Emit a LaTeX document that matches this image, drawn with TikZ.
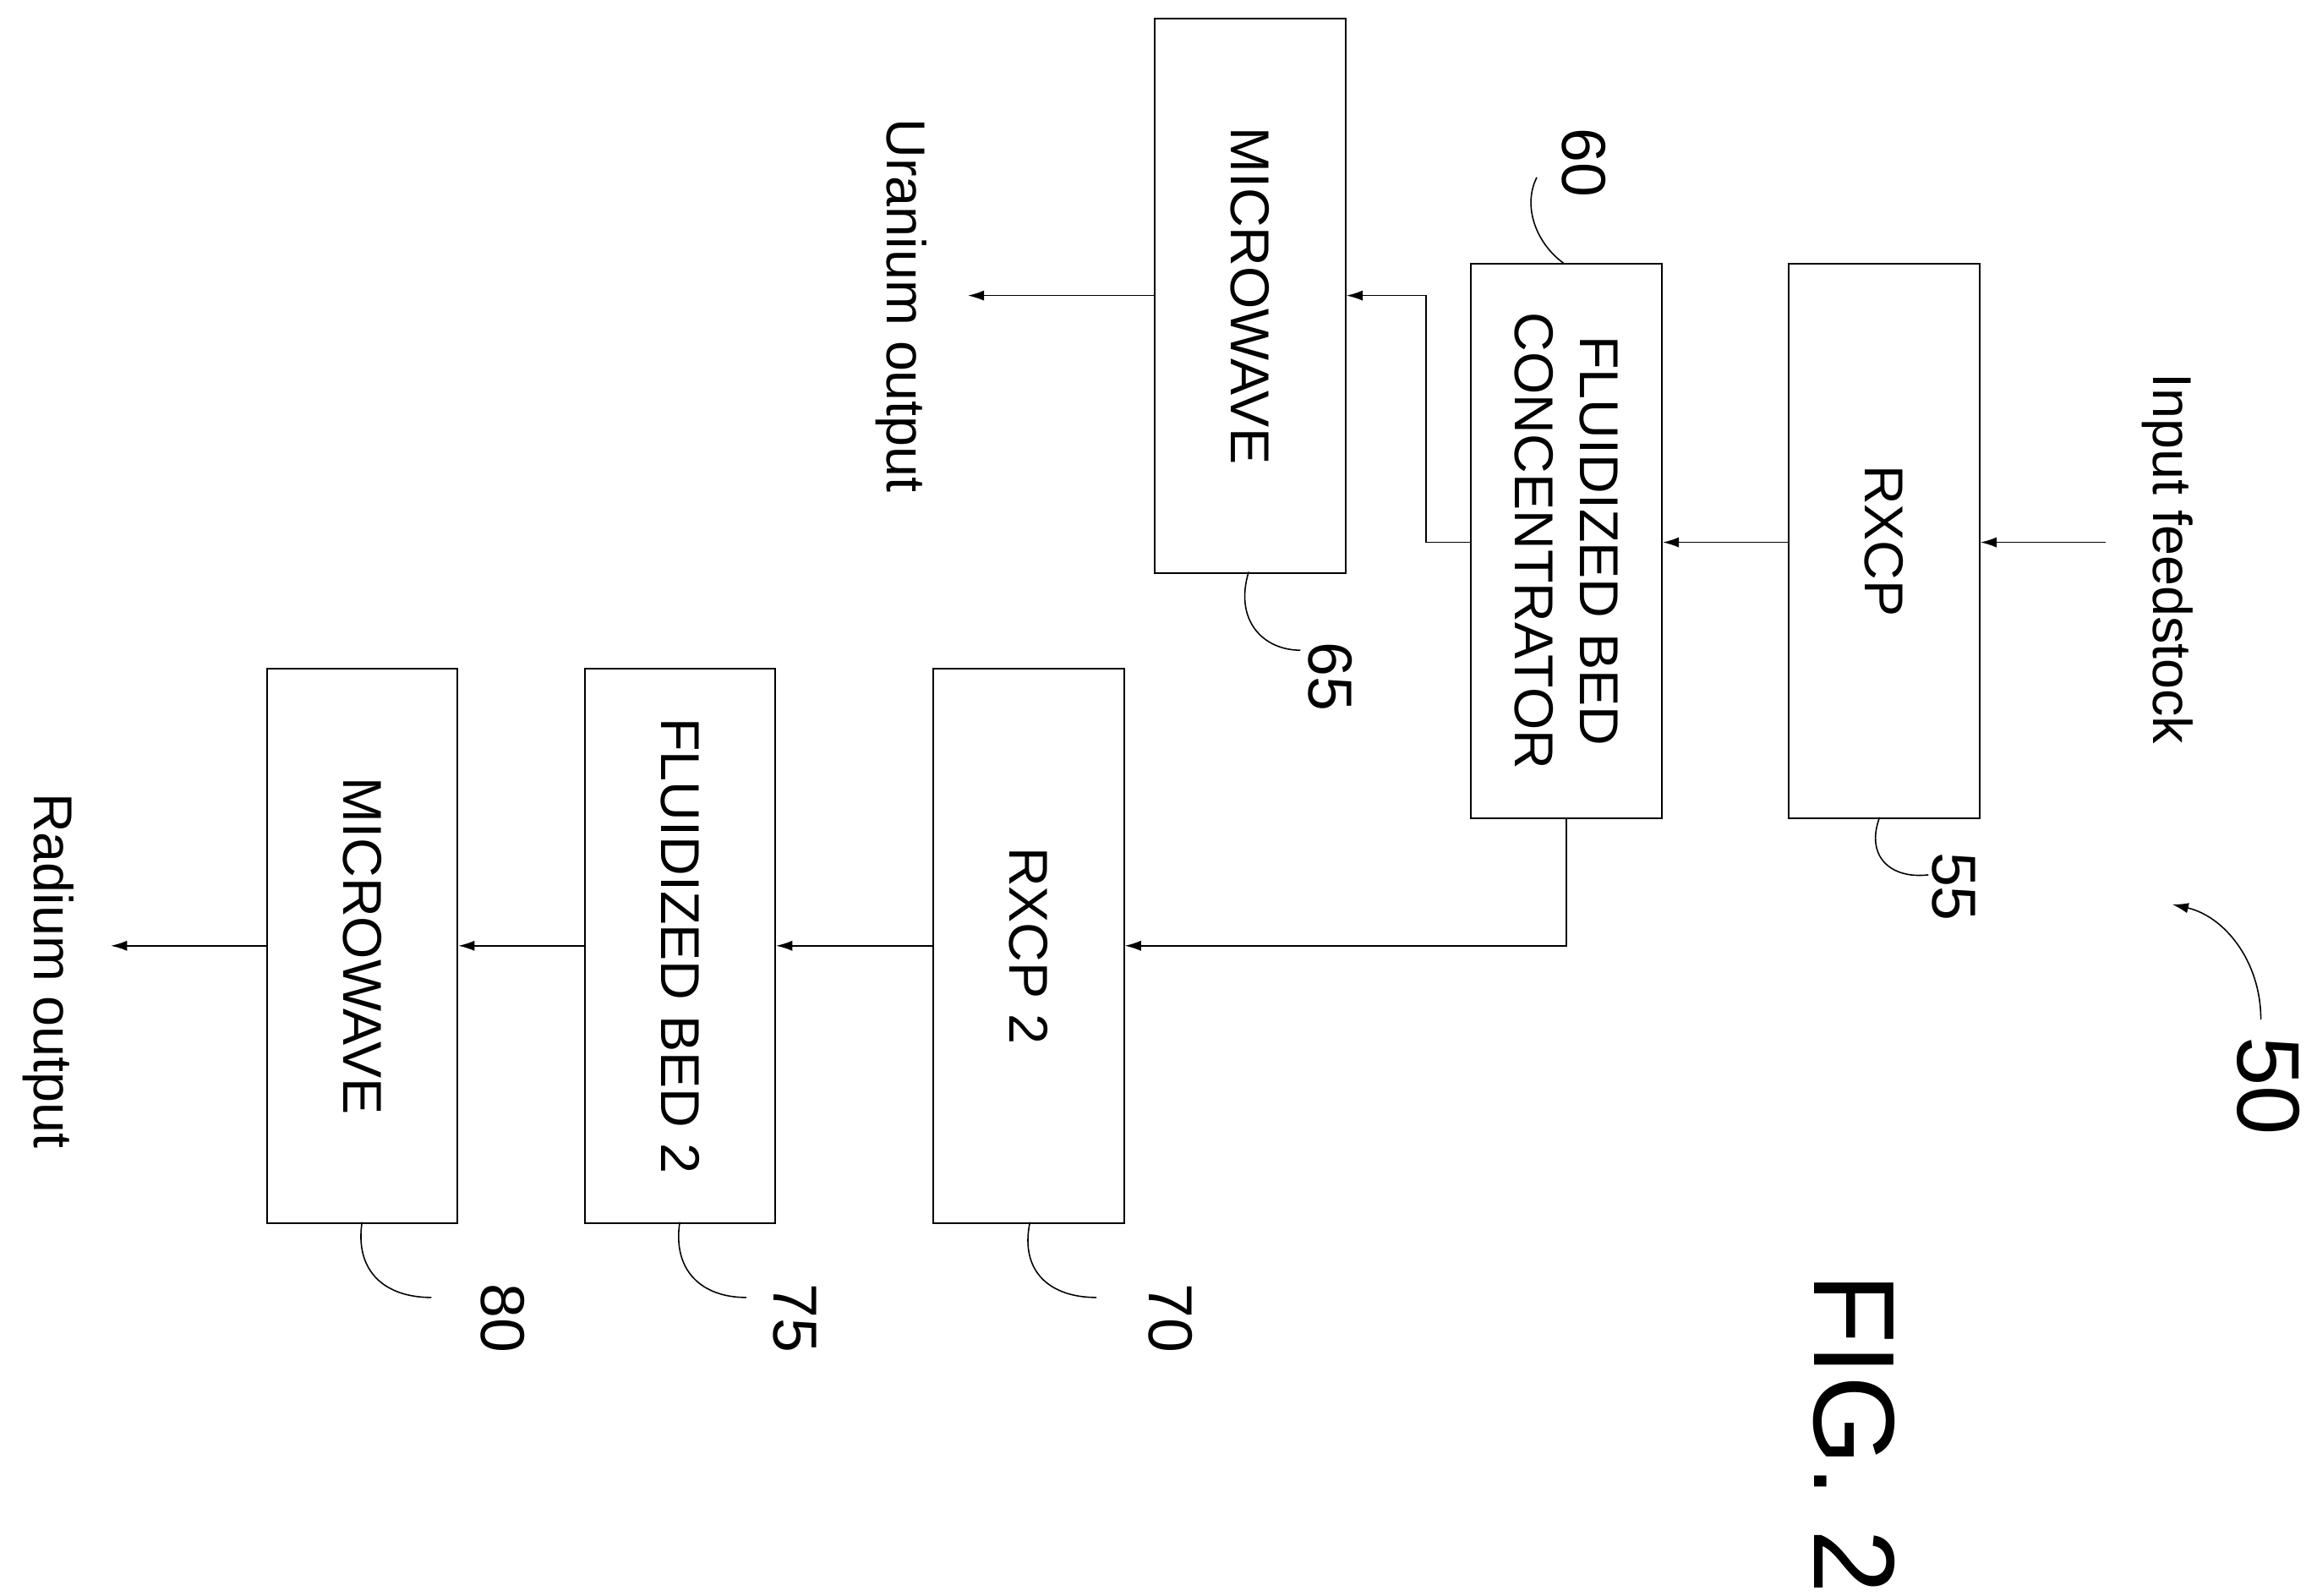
\documentclass[tikz,border=0pt]{standalone}
\usepackage{fontspec}
\setmainfont{Liberation Sans}
\usetikzlibrary{arrows.meta}
\begin{document}
\begin{tikzpicture}[x=1pt,y=-1pt,
  box/.style={draw,line width=1.2pt,minimum width=129pt,minimum height=375pt,anchor=north west,inner sep=0},
  txt/.style={rotate=-90,font=\fontsize{37}{44}\selectfont,align=center},
  lbl/.style={rotate=-90,font=\fontsize{42}{46}\selectfont},
  con/.style={line width=0.9pt,-{Latex[length=11pt,width=7pt]}},
  lead/.style={line width=0.9pt}]
\useasboundingbox (0,0) rectangle (1568,1080);
\node[box] (mw1) at (781,12) {};
\node[txt] at (mw1.center) {MICROWAVE};
\node[box] (fbc) at (995,178) {};
\node[txt] at (fbc.center) {FLUIDIZED BED\\CONCENTRATOR};
\node[box] (rx) at (1210,178) {};
\node[txt] at (rx.center) {RXCP};
\node[box] (rx2) at (631,452) {};
\node[txt] at (rx2.center) {RXCP 2};
\node[box] (fb2) at (395,452) {};
\node[txt] at (fb2.center) {FLUIDIZED BED 2};
\node[box] (mw2) at (180,452) {};
\node[txt] at (mw2.center) {MICROWAVE};
\node[txt] (in) at (1467,378) {Input feedstock};
\node[txt] (uo) at (610,207) {Uranium output};
\node[txt] (ro) at (33,657) {Radium output};
\coordinate (inS) at (1425,367);
\coordinate (uoE) at (655,200);
\coordinate (roE) at (75,640);
\draw[con] (inS) -- (rx.east|-inS);
\draw[con] (rx.west|-inS) -- (fbc.east|-inS);
\draw[con] (fbc.west|-inS) -- (965,367) -- (965,200) -- (mw1.east|-uoE);
\draw[con] (mw1.west|-uoE) -- (uoE);
\draw[con] (1060,553) -- (1060,640) -- (rx2.east|-roE);
\draw[con] (rx2.west|-roE) -- (fb2.east|-roE);
\draw[con] (fb2.west|-roE) -- (mw2.east|-roE);
\draw[con] (mw2.west|-roE) -- (roE);
% labels
\node[lbl] (l60) at (1072,110) {60};
\draw[lead] (1058,178) .. controls (1040,165) and (1030,140) .. (1040,120);
\node[lbl] (l65) at (900,458) {65};
\draw[lead] (845,387) .. controls (835,420) and (855,440) .. (880,440);
\node[lbl] (l55) at (1322,600) {55};
\draw[lead] (1272,553) .. controls (1262,580) and (1280,595) .. (1305,592);
\node[lbl] (l70) at (792,892) {70};
\draw[lead] (697,827) .. controls (690,860) and (710,878) .. (742,878);
\node[lbl] (l75) at (538,892) {75};
\draw[lead] (460,827) .. controls (455,860) and (475,878) .. (505,878);
\node[lbl] (l80) at (340,892) {80};
\draw[lead] (245,827) .. controls (240,860) and (260,878) .. (292,878);
\node[rotate=-90,font=\fontsize{60}{64}\selectfont] (l50) at (1535,735) {50};
\draw[con] (1530,690) .. controls (1530,650) and (1505,620) .. (1470,612);
\node[rotate=-90,font=\fontsize{78}{82}\selectfont] (fig) at (1255,970) {FIG. 2};
\end{tikzpicture}
\end{document}
